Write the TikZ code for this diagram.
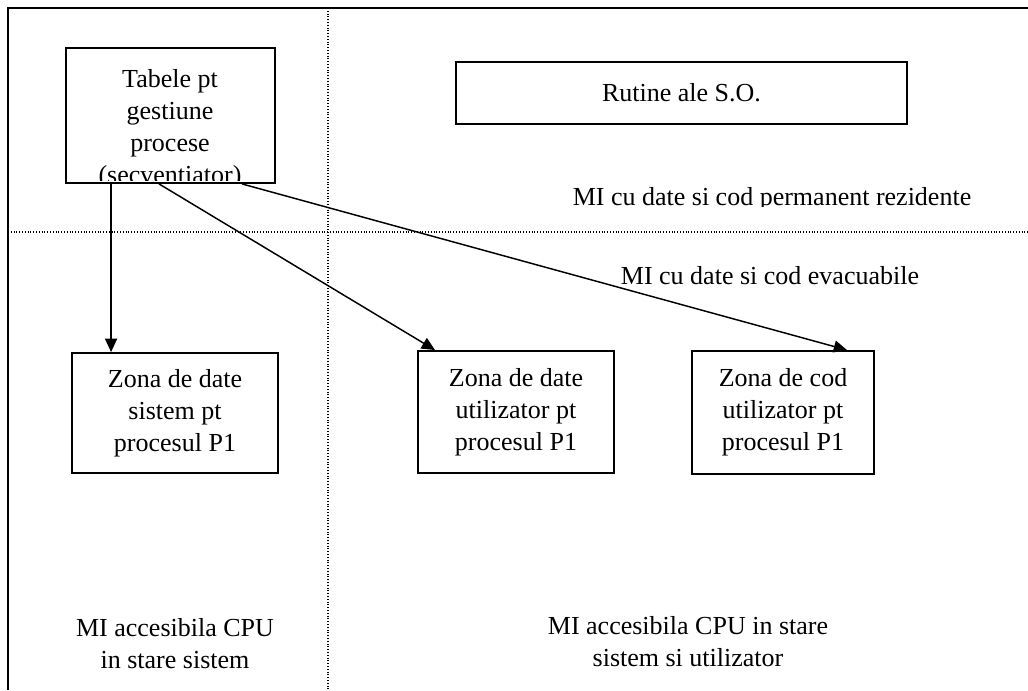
\documentclass[tikz,border=0pt]{standalone}
\usepackage{fontspec}
\setmainfont{Liberation Serif}
\usetikzlibrary{arrows.meta,positioning,calc}

\begin{document}
\begin{tikzpicture}[x=0.75pt,y=-0.75pt,
  font=\fontsize{19.5}{24}\selectfont,
  box/.style={draw,line width=1.4pt,inner sep=0pt,align=center},
  lbl/.style={align=center,inner sep=0pt},
  arr/.style={-{Triangle[length=10pt,width=9pt]},line width=1.1pt},
  sep/.style={line width=0.8pt,dash pattern=on 0.8pt off 1.3pt}
]
\useasboundingbox (0,0) rectangle (1028,690);
% frame and zone borders
\draw[line width=1.5pt] (8,690) -- (8,8) -- (1028,8);
\draw[sep] (328,8) -- (328,690);
\draw[sep] (8,232) -- (1028,232);

% boxes
\node[box,minimum width=156.75pt,minimum height=101.25pt] (tab) at (170.5,115.5) {};
\node[box,minimum width=338.25pt,minimum height=46.5pt] (rut) at (681.5,93) {Rutine ale S.O.};
\node[box,minimum width=154.5pt,minimum height=90pt] (zs) at (175,413)
  {Zona de date\\sistem pt\\procesul P1};
\node[box,minimum width=147pt,minimum height=91.5pt] (zdu) at (516,412)
  {Zona de date\\utilizator pt\\procesul P1};
\node[box,minimum width=136.5pt,minimum height=92.25pt] (zcu) at (783,412.5)
  {Zona de cod\\utilizator pt\\procesul P1};

\begin{scope}
  \clip (tab.north west) rectangle ($(tab.south east)+(0,-3)$);
  \node[lbl] (tabtxt) at (170,129) {Tabele pt\\gestiune\\procese\\(secventiator)};
\end{scope}

% region labels
\begin{scope}
  \clip (500,180) rectangle (1028,206);
  \node[lbl] (perm) at (772,199) {MI cu date si cod permanent rezidente};
\end{scope}
\node[lbl] (evac) at (770,276) {MI cu date si cod evacuabile};
\node[lbl] (accs) at (175,644) {MI accesibila CPU\\in stare sistem};
\node[lbl] (accu) at (688,642) {MI accesibila CPU in stare\\sistem si utilizator};

% arrows
\draw[arr] ($(tab.south west)+(46,0)$) -- ($(zs.north west)+(40,0)$);
\draw[arr] ($(tab.south west)+(94,0)$) -- ($(zdu.north west)+(18,0)$);
\draw[arr] ($(tab.south west)+(177,0)$) -- ($(zcu.north west)+(156,0)$);
\end{tikzpicture}
\end{document}
